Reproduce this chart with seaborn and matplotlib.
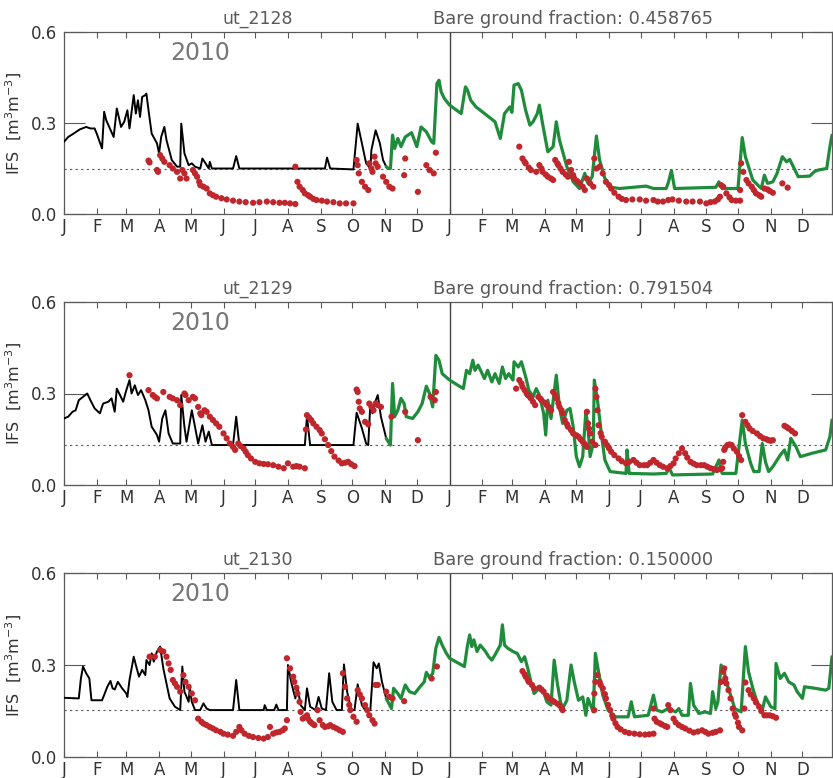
import numpy as np
import pandas as pd
import matplotlib
matplotlib.use('Agg')
import matplotlib.pyplot as plt
import seaborn as sns

# Sites, bare ground fraction and wilting threshold per panel
sites = ['ut_2128', 'ut_2129', 'ut_2130']
bare_fraction = ['0.458765', '0.791504', '0.150000']
threshold = [0.148, 0.131, 0.153]
year_label = '2010'

month_letters = ['J', 'F', 'M', 'A', 'M', 'J', 'J', 'A', 'S', 'O', 'N', 'D']
month_start = [0, 31, 59, 90, 120, 151, 181, 212, 243, 273, 304, 334]

# (day since 1 Jan 2010, IFS) -- model run 1 (black) and run 2 (green), observations (red)
p1_black = [(0,0.238),(4,0.254),(9,0.265),(15,0.279),(21,0.287),(25,0.282),(29,0.282),(31,0.265),(36,0.216),(38,0.337),
            (40,0.309),(47,0.254),(50,0.348),(54,0.287),(57,0.304),(60,0.342),(62,0.282),(66,0.392),(68,0.331),(70,0.375),
            (72,0.320),(74,0.386),(77,0.392),(78,0.397),(80,0.342),(83,0.265),(88,0.233),(90,0.200),(92,0.254),(95,0.287),
            (97,0.244),(102,0.178),(107,0.156),(110,0.156),(111,0.298),(114,0.200),(118,0.161),(121,0.167),(124,0.156),(129,0.150),
            (131,0.183),(134,0.167),(137,0.150),(138,0.172),(140,0.150),(160,0.150),(163,0.191),(166,0.150),(207,0.150),(247,0.150),
            (249,0.186),(252,0.150),(274,0.147),(278,0.298),(282,0.233),(286,0.167),(290,0.150),(291,0.211),(295,0.276),(299,0.233),
            (302,0.178),(305,0.156)]
p1_green = [(305,0.156),(307,0.150),(309,0.150),(311,0.260),(313,0.216),(316,0.249),(319,0.222),(323,0.254),(329,0.268),(334,0.222),
            (338,0.287),(343,0.271),(348,0.238),(350,0.233),(353,0.430),(355,0.441),(357,0.403),(360,0.381),(365,0.359),(376,0.331),
            (380,0.419),(382,0.408),(385,0.375),(390,0.353),(400,0.326),(408,0.304),(413,0.249),(417,0.331),(422,0.353),(424,0.335),
            (426,0.425),(430,0.430),(433,0.408),(437,0.342),(441,0.293),(444,0.304),(448,0.331),(450,0.359),(453,0.298),(458,0.205),
            (463,0.222),(466,0.304),(469,0.244),(476,0.156),(482,0.106),(488,0.084),(493,0.134),(496,0.101),(500,0.123),(504,0.257),
            (507,0.178),(512,0.117),(518,0.088),(526,0.084),(551,0.092),(558,0.084),(570,0.084),(572,0.103),(575,0.143),(578,0.084),
            (617,0.088),(620,0.106),(623,0.084),(638,0.084),(642,0.252),(645,0.189),(652,0.112),(660,0.084),(663,0.128),(666,0.101),
            (671,0.106),(675,0.134),(680,0.189),(684,0.172),(687,0.180),(695,0.123),(706,0.125),(710,0.139),(714,0.145),(722,0.150),
            (725,0.222),(727,0.260)]
p1_obs = [(80,0.176),(81,0.170),(88,0.145),(89,0.139),(91,0.194),(93,0.183),(95,0.172),(100,0.161),(103,0.150),(107,0.139),
          (110,0.117),(112,0.145),(114,0.134),(116,0.117),(122,0.145),(124,0.134),(126,0.123),(128,0.106),(129,0.095),(132,0.090),
          (135,0.084),(138,0.068),(141,0.062),(144,0.057),(149,0.052),(154,0.048),(160,0.044),(166,0.041),(172,0.039),(179,0.037),
          (185,0.039),(192,0.041),(198,0.039),(204,0.037),(209,0.037),(214,0.035),(219,0.033),(219,0.156),(221,0.106),(223,0.090),
          (226,0.079),(228,0.068),(231,0.062),(233,0.057),(236,0.050),(239,0.046),(244,0.044),(249,0.041),(255,0.039),(261,0.035),
          (267,0.035),(274,0.035),(277,0.178),(278,0.161),(279,0.134),(282,0.106),(285,0.090),(288,0.079),(289,0.167),(291,0.150),
          (292,0.139),(294,0.189),(295,0.167),(297,0.156),(302,0.123),(305,0.106),(308,0.090),(311,0.084),(322,0.128),(323,0.183),
          (335,0.073),(343,0.161),(346,0.145),(350,0.134),(352,0.202),
          (431,0.222),(434,0.183),(436,0.172),(437,0.167),(440,0.153),(442,0.145),(447,0.139),(450,0.161),(452,0.150),(453,0.139),
          (456,0.130),(458,0.123),(461,0.117),(463,0.112),(465,0.178),(467,0.167),(468,0.161),(470,0.150),(472,0.139),(475,0.130),
          (477,0.123),(478,0.172),(480,0.145),(482,0.128),(483,0.117),(486,0.108),(488,0.101),(491,0.090),(493,0.079),(495,0.117),
          (498,0.101),(501,0.090),(502,0.183),(504,0.150),(507,0.156),(510,0.134),(513,0.106),(516,0.095),(518,0.084),(521,0.070),
          (525,0.057),(528,0.050),(532,0.046),(538,0.048),(545,0.048),(551,0.044),(558,0.046),(562,0.041),(567,0.041),(572,0.046),
          (576,0.048),(582,0.044),(589,0.041),(595,0.041),(602,0.041),(608,0.035),(612,0.039),(616,0.041),(619,0.048),(621,0.057),
          (622,0.095),(624,0.090),(627,0.068),(630,0.055),(632,0.046),(636,0.044),(640,0.044),(640,0.079),(641,0.167),(643,0.139),
          (646,0.112),(648,0.101),(651,0.090),(653,0.079),(655,0.068),(658,0.062),(660,0.057),(663,0.084),(666,0.081),(668,0.076),
          (671,0.070),(680,0.101),(685,0.087)]

p2_black = [(0,0.218),(4,0.224),(8,0.240),(11,0.245),(14,0.278),(18,0.289),(22,0.300),(25,0.278),(29,0.251),(34,0.235),
            (37,0.267),(42,0.273),(45,0.284),(48,0.240),(50,0.316),(53,0.295),(56,0.273),(59,0.311),(62,0.344),(64,0.300),
            (67,0.327),(70,0.295),(73,0.311),(77,0.278),(80,0.245),(83,0.191),(88,0.164),(90,0.142),(93,0.218),(96,0.245),
            (99,0.169),(103,0.136),(110,0.136),(111,0.295),(114,0.191),(116,0.142),(121,0.245),(124,0.191),(127,0.136),(131,0.196),
            (134,0.142),(137,0.175),(140,0.131),(160,0.131),(163,0.224),(166,0.131),(228,0.131),(230,0.224),(233,0.131),(274,0.131),
            (277,0.237),(282,0.186),(286,0.136),(288,0.131),(290,0.267),(292,0.235),(294,0.267),(297,0.295),(300,0.224),(305,0.153)]
p2_green = [(305,0.153),(309,0.131),(311,0.333),(313,0.224),(316,0.245),(319,0.284),(322,0.267),(324,0.224),(330,0.218),(335,0.240),
            (339,0.267),(343,0.324),(346,0.300),(349,0.256),(352,0.425),(355,0.409),(358,0.365),(365,0.344),(378,0.316),(381,0.376),
            (384,0.365),(387,0.409),(389,0.376),(392,0.393),(395,0.371),(398,0.349),(401,0.376),(405,0.338),(408,0.365),(412,0.333),
            (415,0.387),(418,0.349),(421,0.365),(425,0.344),(426,0.404),(430,0.387),(433,0.404),(437,0.355),(440,0.311),(444,0.289),
            (447,0.316),(450,0.295),(454,0.235),(456,0.164),(458,0.278),(461,0.218),(466,0.360),(469,0.256),(472,0.202),(476,0.245),
            (479,0.251),(482,0.191),(485,0.093),(488,0.060),(491,0.093),(494,0.240),(496,0.191),(498,0.093),(501,0.136),(502,0.344),
            (505,0.278),(509,0.158),(512,0.082),(517,0.044),(532,0.038),(533,0.115),(535,0.038),(558,0.036),(570,0.038),(573,0.055),
            (576,0.033),(614,0.036),(620,0.082),(623,0.038),(636,0.038),(642,0.213),(645,0.136),(650,0.071),(653,0.044),(658,0.044),
            (661,0.136),(664,0.076),(667,0.044),(671,0.060),(678,0.098),(682,0.115),(685,0.082),(688,0.153),(693,0.125),(697,0.093),
            (708,0.104),(721,0.115),(725,0.158),(727,0.213)]
p2_obs = [(62,0.360),(80,0.311),(84,0.295),(86,0.289),(88,0.284),(94,0.305),(100,0.289),(103,0.284),(107,0.278),(110,0.262),
          (114,0.300),(115,0.295),(118,0.278),(122,0.289),(124,0.284),(127,0.256),(129,0.235),(130,0.229),(133,0.245),(135,0.240),
          (138,0.224),(141,0.213),(144,0.202),(147,0.191),(151,0.169),(154,0.153),(157,0.136),(160,0.125),(162,0.115),(165,0.136),
          (167,0.128),(170,0.120),(172,0.109),(174,0.098),(177,0.087),(181,0.076),(185,0.071),(189,0.069),(193,0.068),(198,0.065),
          (203,0.060),(208,0.055),(212,0.071),(217,0.060),(220,0.062),(223,0.060),(228,0.055),(229,0.182),(230,0.229),(232,0.221),
          (234,0.213),(236,0.202),(239,0.191),(242,0.180),(244,0.169),(247,0.150),(250,0.131),(253,0.111),(256,0.093),(260,0.080),
          (263,0.071),(266,0.073),(269,0.076),(272,0.068),(275,0.062),(277,0.313),(278,0.305),(279,0.273),(280,0.251),(282,0.240),
          (285,0.207),(288,0.199),(289,0.267),(291,0.256),(293,0.245),(295,0.267),(297,0.262),(300,0.256),(310,0.224),(323,0.240),
          (335,0.147),(347,0.289),(351,0.278),(352,0.305),
          (428,0.316),(431,0.344),(433,0.333),(434,0.322),(436,0.311),(438,0.300),(439,0.295),(441,0.289),(442,0.284),(444,0.273),
          (446,0.262),(449,0.289),(451,0.283),(452,0.278),(455,0.270),(457,0.262),(459,0.255),(461,0.245),(463,0.305),(465,0.295),
          (466,0.284),(468,0.268),(469,0.256),(471,0.245),(472,0.235),(474,0.213),(476,0.200),(477,0.191),(480,0.180),(482,0.169),
          (485,0.163),(487,0.158),(489,0.150),(491,0.142),(493,0.134),(495,0.125),(495,0.240),(496,0.202),(497,0.185),(498,0.169),
          (500,0.142),(503,0.131),(503,0.316),(504,0.289),(505,0.245),(506,0.196),(508,0.170),(509,0.158),(512,0.142),(514,0.131),
          (516,0.120),(518,0.109),(521,0.098),(525,0.087),(528,0.078),(532,0.071),(535,0.076),(539,0.082),(542,0.073),(545,0.065),
          (549,0.065),(552,0.065),(555,0.073),(558,0.082),(561,0.073),(564,0.065),(567,0.060),(571,0.055),(574,0.062),(577,0.071),
          (579,0.087),(582,0.104),(585,0.120),(588,0.104),(590,0.090),(593,0.076),(596,0.070),(599,0.065),(603,0.065),(606,0.065),
          (609,0.060),(612,0.055),(615,0.052),(618,0.049),(621,0.052),(623,0.055),(624,0.076),(625,0.115),(626,0.123),(628,0.131),
          (630,0.133),(632,0.131),(634,0.120),(637,0.109),(639,0.095),(641,0.082),(642,0.229),(645,0.207),(647,0.196),(649,0.185),
          (652,0.177),(656,0.169),(659,0.160),(662,0.153),(665,0.150),(667,0.147),(669,0.145),(671,0.147),(682,0.194),(684,0.190),
          (686,0.185),(689,0.177),(692,0.169)]

p3_black = [(0,0.193),(14,0.191),(16,0.256),(18,0.295),(21,0.273),(24,0.256),(26,0.185),(36,0.185),(38,0.202),(41,0.229),
            (44,0.248),(46,0.224),(48,0.220),(51,0.245),(55,0.224),(59,0.207),(60,0.196),(62,0.251),(66,0.327),(68,0.300),
            (71,0.262),(74,0.284),(77,0.267),(78,0.316),(81,0.300),(83,0.338),(85,0.311),(88,0.344),(91,0.360),(94,0.289),
            (97,0.240),(100,0.191),(105,0.164),(110,0.153),(112,0.295),(114,0.213),(118,0.180),(119,0.224),(121,0.180),(124,0.153),
            (129,0.153),(132,0.175),(135,0.158),(138,0.153),(160,0.153),(163,0.251),(166,0.153),(189,0.153),(190,0.169),(192,0.153),
            (199,0.153),(201,0.171),(203,0.153),(211,0.153),(212,0.300),(215,0.245),(219,0.191),(221,0.229),(224,0.169),(228,0.153),
            (230,0.224),(233,0.164),(238,0.153),(241,0.196),(244,0.158),(248,0.153),(251,0.273),(254,0.180),(258,0.153),(263,0.153),
            (265,0.302),(268,0.213),(272,0.153),(275,0.153),(278,0.237),(282,0.169),(285,0.153),(290,0.153),(293,0.309),(296,0.289),
            (298,0.305),(301,0.245),(305,0.191)]
p3_green = [(305,0.191),(310,0.158),(312,0.224),(316,0.207),(319,0.191),(323,0.235),(327,0.213),(332,0.207),(337,0.229),(341,0.245),
            (343,0.276),(346,0.259),(349,0.272),(352,0.355),(355,0.390),(358,0.365),(362,0.338),(365,0.322),(379,0.295),(382,0.365),
            (384,0.398),(386,0.360),(388,0.382),(391,0.344),(394,0.365),(399,0.344),(402,0.327),(405,0.316),(408,0.333),(413,0.365),
            (415,0.431),(417,0.365),(420,0.355),(425,0.344),(429,0.338),(433,0.311),(436,0.327),(439,0.289),(442,0.245),(445,0.207),
            (450,0.224),(454,0.213),(457,0.180),(461,0.169),(464,0.316),(467,0.240),(470,0.180),(472,0.158),(476,0.185),(480,0.300),
            (483,0.245),(487,0.185),(491,0.196),(494,0.136),(496,0.191),(501,0.147),(503,0.338),(506,0.278),(510,0.202),(515,0.153),
            (522,0.131),(534,0.131),(537,0.180),(540,0.131),(553,0.136),(558,0.202),(561,0.153),(566,0.147),(572,0.158),(579,0.147),
            (582,0.158),(585,0.136),(591,0.136),(593,0.240),(596,0.169),(601,0.142),(607,0.147),(612,0.142),(614,0.213),(617,0.158),
            (619,0.180),(622,0.300),(625,0.278),(627,0.245),(631,0.202),(635,0.158),(641,0.147),(645,0.360),(648,0.278),(652,0.224),
            (656,0.180),(661,0.153),(664,0.196),(669,0.164),(673,0.158),(674,0.305),(678,0.256),(682,0.273),(686,0.245),(691,0.235),
            (694,0.213),(699,0.191),(701,0.229),(711,0.224),(721,0.218),(724,0.224),(727,0.327)]
p3_obs = [(81,0.327),(86,0.327),(91,0.349),(94,0.344),(97,0.327),(99,0.305),(101,0.284),(103,0.251),(105,0.240),(107,0.229),
          (110,0.213),(113,0.267),(115,0.245),(118,0.229),(121,0.207),(124,0.185),(127,0.125),(130,0.115),(132,0.109),(135,0.104),
          (138,0.098),(141,0.093),(144,0.087),(148,0.082),(151,0.076),(155,0.073),(160,0.069),(163,0.082),(166,0.098),(168,0.087),
          (171,0.076),(175,0.069),(179,0.065),(184,0.062),(189,0.060),(193,0.065),(195,0.098),(198,0.076),(201,0.080),(204,0.082),
          (207,0.087),(209,0.093),(211,0.120),(211,0.322),(214,0.289),(217,0.262),(218,0.245),(220,0.226),(221,0.207),(223,0.180),
          (224,0.147),(226,0.125),(228,0.130),(230,0.136),(231,0.125),(233,0.115),(235,0.109),(237,0.104),(240,0.153),(242,0.120),
          (245,0.104),(247,0.098),(250,0.100),(252,0.104),(255,0.098),(258,0.093),(261,0.087),(264,0.082),(264,0.273),(266,0.229),
          (268,0.191),(270,0.170),(271,0.153),(274,0.131),(277,0.115),(278,0.218),(280,0.204),(282,0.191),(285,0.169),(287,0.153),
          (289,0.136),(292,0.120),(294,0.109),(295,0.235),(297,0.235),(305,0.213),(308,0.196),(311,0.191),(322,0.182),(348,0.256),
          (353,0.295),
          (434,0.280),(436,0.270),(437,0.262),(439,0.252),(440,0.245),(443,0.235),(445,0.224),(450,0.226),(452,0.220),(454,0.213),
          (457,0.200),(459,0.191),(462,0.185),(464,0.180),(467,0.174),(469,0.169),(471,0.160),(472,0.153),(502,0.153),(502,0.207),
          (503,0.245),(505,0.267),(507,0.245),(508,0.235),(510,0.224),(512,0.205),(513,0.191),(515,0.170),(517,0.153),(519,0.135),
          (520,0.125),(522,0.110),(524,0.098),(527,0.090),(531,0.082),(535,0.078),(540,0.076),(545,0.074),(550,0.073),(554,0.074),
          (558,0.076),(558,0.158),(559,0.125),(561,0.115),(564,0.110),(566,0.106),(569,0.101),(571,0.098),(572,0.169),(574,0.153),
          (577,0.125),(579,0.113),(582,0.104),(585,0.098),(588,0.093),(592,0.086),(596,0.080),(600,0.083),(604,0.087),(607,0.082),
          (610,0.076),(614,0.079),(617,0.082),(621,0.087),(622,0.245),(624,0.278),(625,0.289),(626,0.256),(627,0.240),(629,0.218),
          (631,0.191),(633,0.158),(635,0.140),(636,0.131),(638,0.112),(639,0.098),(642,0.087),(644,0.158),(645,0.243),(648,0.218),
          (650,0.204),(653,0.191),(655,0.178),(658,0.164),(660,0.150),(663,0.136),(665,0.136),(668,0.136),(671,0.133),(674,0.128)]

panels = [(p1_black, p1_green, p1_obs), (p2_black, p2_green, p2_obs), (p3_black, p3_green, p3_obs)]

sns.set_theme(style='white')
plt.rcParams['font.family'] = ['DejaVu Sans', 'Noto Sans']
plt.rcParams['mathtext.fontset'] = 'dejavusans'

GRAY = '#5a5a5a'
GREEN = '#1f8c3b'
RED = '#c0272d'

fig = plt.figure(figsize=(8.33, 7.78), dpi=100)
W, H = 833.0, 778.0
# pixel boxes of the axes: (top, bottom)
rows = [(32, 214), (302, 485), (573, 757)]
left_px, right_px = 64, 832

xticks = month_start + [365 + d for d in month_start]
xlabels = month_letters * 2

for i, (black, green, obs) in enumerate(panels):
    top, bot = rows[i]
    ax = fig.add_axes([left_px / W, 1 - bot / H, (right_px - left_px) / W, (bot - top) / H])

    df_b = pd.DataFrame(black, columns=['day', 'ifs'])
    df_g = pd.DataFrame(green, columns=['day', 'ifs'])
    df_o = pd.DataFrame(obs, columns=['day', 'ifs'])

    ax.axhline(threshold[i], color=GRAY, lw=0.8, ls=(0, (2, 3)), zorder=1)
    ax.axvline(365, color='#444444', lw=1.0, zorder=1)
    sns.lineplot(data=df_b, x='day', y='ifs', ax=ax, color='black', lw=1.4, estimator=None, zorder=3)
    sns.lineplot(data=df_g, x='day', y='ifs', ax=ax, color=GREEN, lw=2.3, estimator=None, zorder=3)
    sns.scatterplot(data=df_o, x='day', y='ifs', ax=ax, color=RED, s=20, edgecolor='none', linewidth=0, zorder=4)

    ax.set_xlim(0, 727)
    ax.set_ylim(0, 0.6)
    ax.set_xticks(xticks)
    ax.set_xticklabels(xlabels)
    ax.set_yticks([0.0, 0.3, 0.6])
    ax.set_yticklabels(['0.0', '0.3', '0.6'])
    ax.tick_params(axis='x', direction='in', length=4, width=0.8, color=GRAY, top=True, bottom=True,
                   labelsize=12, labelcolor='#333333', pad=3)
    ax.tick_params(axis='y', direction='in', length=15, width=0.8, color=GRAY, left=True, right=True,
                   labelsize=12, labelcolor='#333333', pad=5)
    for s in ax.spines.values():
        s.set_color(GRAY)
        s.set_linewidth(0.9)
    ax.set_xlabel('')
    ax.set_ylabel(r'IFS  [m$^3$m$^{-3}$]', color='#333333', fontsize=11.5, labelpad=5)

    ax.text((258 - left_px) / (right_px - left_px), 1 + 13 / (bot - top), sites[i],
            transform=ax.transAxes, ha='center', va='center', color=GRAY, fontsize=12.5)
    ax.text((433 - left_px) / (right_px - left_px), 1 + 13 / (bot - top), 'Bare ground fraction: ' + bare_fraction[i],
            transform=ax.transAxes, ha='left', va='center', color=GRAY, fontsize=12.8)
    ax.text((200 - left_px) / (right_px - left_px), (bot - top - 21) / (bot - top), year_label,
            transform=ax.transAxes, ha='center', va='center', color='#777777', fontsize=17)

fig.savefig('out.png', dpi=100)
